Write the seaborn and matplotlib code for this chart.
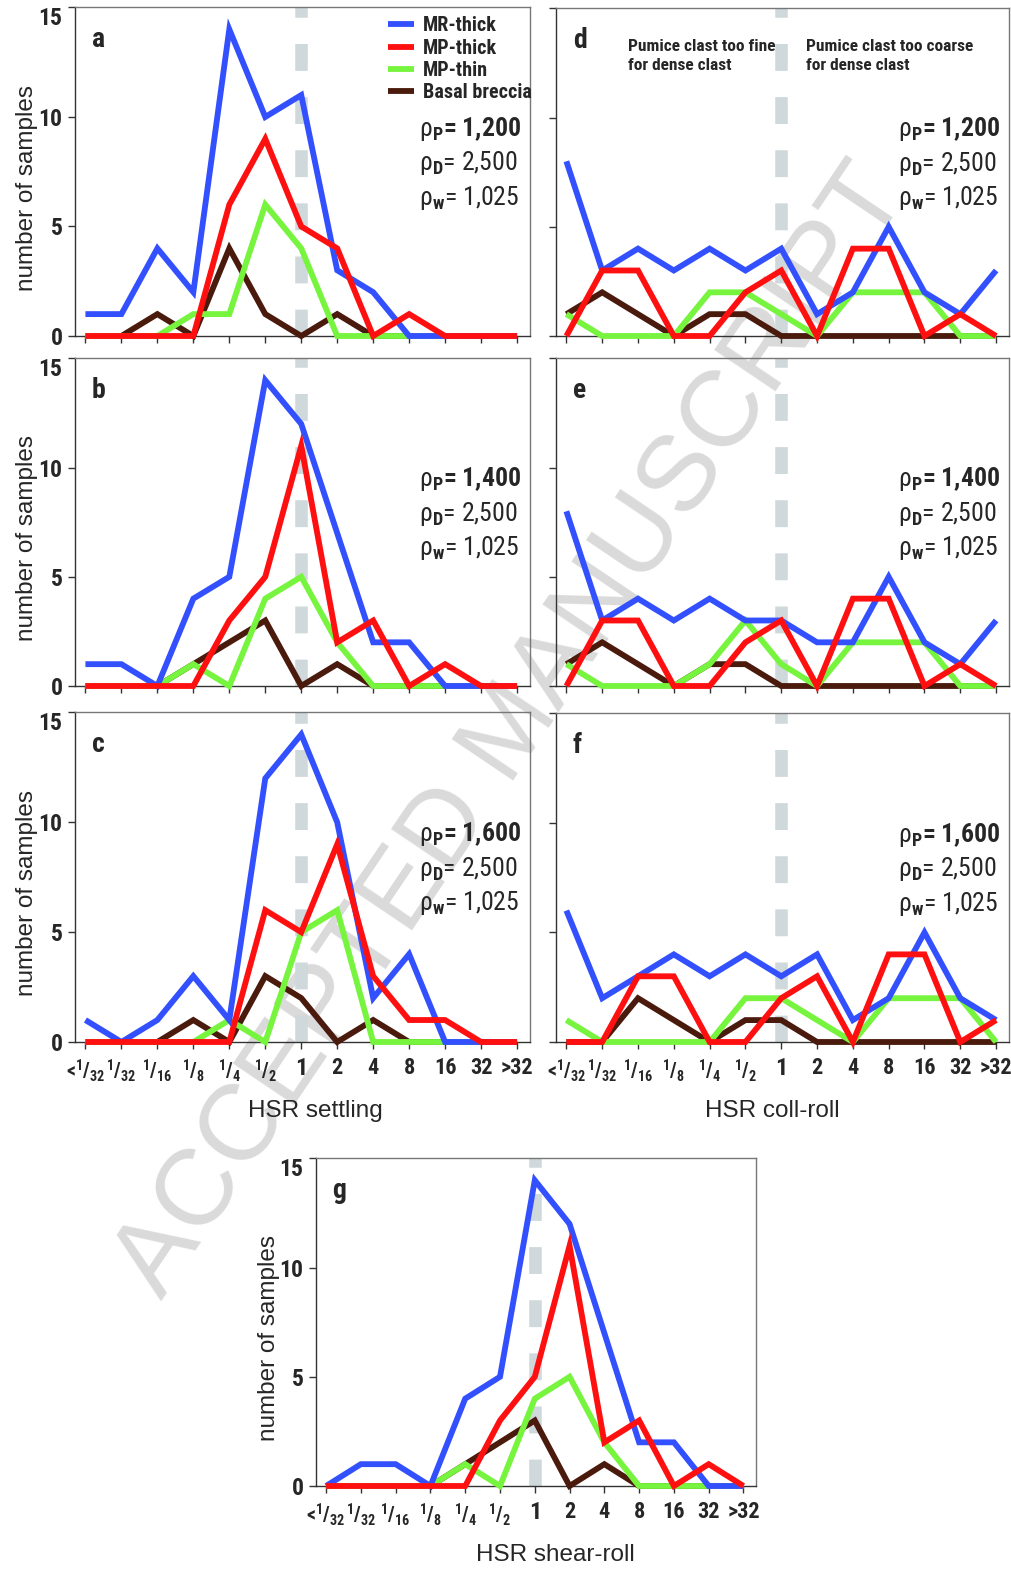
import numpy as np
import pandas as pd
import matplotlib
matplotlib.use("Agg")
import matplotlib.pyplot as plt
import seaborn as sns
from matplotlib import font_manager

# HSR classes on the x axis
hsr_classes = ["<1/32", "1/32", "1/16", "1/8", "1/4", "1/2", "1", "2", "4", "8", "16", "32", ">32"]
tick_labels = [r"<$\mathbf{^{1}/_{32}}$", r"$\mathbf{^{1}/_{32}}$", r"$\mathbf{^{1}/_{16}}$",
               r"$\mathbf{^{1}/_{8}}$", r"$\mathbf{^{1}/_{4}}$", r"$\mathbf{^{1}/_{2}}$",
               "1", "2", "4", "8", "16", "32", ">32"]
units = ["MR-thick", "MP-thick", "MP-thin", "Basal breccia"]

# a: HSR settling, rho_P = 1,200
a_mr_thick = [1, 1, 4, 2, 14, 10, 11, 3, 2, 0, 0, 0, 0]
a_mp_thick = [0, 0, 0, 0, 6, 9, 5, 4, 0, 1, 0, 0, 0]
a_mp_thin = [0, 0, 0, 1, 1, 6, 4, 0, 0, 0, 0, 0, 0]
a_basal = [0, 0, 1, 0, 4, 1, 0, 1, 0, 0, 0, 0, 0]
# b: HSR settling, rho_P = 1,400
b_mr_thick = [1, 1, 0, 4, 5, 14, 12, 7, 2, 2, 0, 0, 0]
b_mp_thick = [0, 0, 0, 0, 3, 5, 11, 2, 3, 0, 1, 0, 0]
b_mp_thin = [0, 0, 0, 1, 0, 4, 5, 2, 0, 0, 0, 0, 0]
b_basal = [0, 0, 0, 1, 2, 3, 0, 1, 0, 0, 0, 0, 0]
# c: HSR settling, rho_P = 1,600
c_mr_thick = [1, 0, 1, 3, 1, 12, 14, 10, 2, 4, 0, 0, 0]
c_mp_thick = [0, 0, 0, 0, 0, 6, 5, 9, 3, 1, 1, 0, 0]
c_mp_thin = [0, 0, 0, 0, 1, 0, 5, 6, 0, 0, 0, 0, 0]
c_basal = [0, 0, 0, 1, 0, 3, 2, 0, 1, 0, 0, 0, 0]
# d: HSR coll-roll, rho_P = 1,200
d_mr_thick = [8, 3, 4, 3, 4, 3, 4, 1, 2, 5, 2, 1, 3]
d_mp_thick = [0, 3, 3, 0, 0, 2, 3, 0, 4, 4, 0, 1, 0]
d_mp_thin = [1, 0, 0, 0, 2, 2, 1, 0, 2, 2, 2, 0, 0]
d_basal = [1, 2, 1, 0, 1, 1, 0, 0, 0, 0, 0, 0, 0]
# e: HSR coll-roll, rho_P = 1,400
e_mr_thick = [8, 3, 4, 3, 4, 3, 3, 2, 2, 5, 2, 1, 3]
e_mp_thick = [0, 3, 3, 0, 0, 2, 3, 0, 4, 4, 0, 1, 0]
e_mp_thin = [1, 0, 0, 0, 1, 3, 1, 0, 2, 2, 2, 0, 0]
e_basal = [1, 2, 1, 0, 1, 1, 0, 0, 0, 0, 0, 0, 0]
# f: HSR coll-roll, rho_P = 1,600
f_mr_thick = [6, 2, 3, 4, 3, 4, 3, 4, 1, 2, 5, 2, 1]
f_mp_thick = [0, 0, 3, 3, 0, 0, 2, 3, 0, 4, 4, 0, 1]
f_mp_thin = [1, 0, 0, 0, 0, 2, 2, 1, 0, 2, 2, 2, 0]
f_basal = [0, 0, 2, 1, 0, 1, 1, 0, 0, 0, 0, 0, 0]
# g: HSR shear-roll
g_mr_thick = [0, 1, 1, 0, 4, 5, 14, 12, 7, 2, 2, 0, 0]
g_mp_thick = [0, 0, 0, 0, 0, 3, 5, 11, 2, 3, 0, 1, 0]
g_mp_thin = [0, 0, 0, 0, 1, 0, 4, 5, 2, 0, 0, 0, 0]
g_basal = [0, 0, 0, 0, 1, 2, 3, 0, 1, 0, 0, 0, 0]

colors = {"MR-thick": "#3350ff", "MP-thick": "#ff1010", "MP-thin": "#77f53e", "Basal breccia": "#4a1a0c"}
draw_order = ["Basal breccia", "MP-thin", "MR-thick", "MP-thick"]

# condensed font if there is one, otherwise a plain one a bit smaller
installed = {f.name for f in font_manager.fontManager.ttflist}
if "Roboto Condensed" in installed:
    NFAM, k = "Roboto Condensed", 1.0
elif "Liberation Sans Narrow" in installed:
    NFAM, k = "Liberation Sans Narrow", 1.0
else:
    NFAM, k = "Liberation Sans", 0.84

sns.set_style("ticks")
plt.rcParams["font.family"] = ["Liberation Sans", "DejaVu Sans"]
plt.rcParams["mathtext.fontset"] = "custom"
plt.rcParams["mathtext.rm"] = NFAM
plt.rcParams["mathtext.it"] = NFAM + ":italic"
plt.rcParams["mathtext.bf"] = NFAM + ":bold"
NARROW = [NFAM, "DejaVu Sans"]

W, H = 1011, 1570
fig = plt.figure(figsize=(W / 100, H / 100), dpi=100)


def add_ax(l, t, r, b):
    ax = fig.add_axes([l / W, 1 - b / H, (r - l) / W, (b - t) / H])
    ax.set_facecolor("none")
    return ax


def panel(ax, series, letter, rho_p, xlabel=None, xlab_x=0.5, ylabel=True, legend=False):
    ax.axvline(6, color="#cfd8da", lw=9, dashes=(2.15, 2.1), zorder=1.5)
    lines = {}
    for name in draw_order:
        df = pd.DataFrame({"pos": np.arange(len(hsr_classes)), "count": series[name]})
        sns.lineplot(data=df, x="pos", y="count", color=colors[name], lw=4.2, ax=ax,
                     clip_on=False, zorder=3, label=name, legend=False,
                     solid_joinstyle="miter", solid_capstyle="butt")
        lines[name] = ax.lines[-1]
    if ax.get_legend() is not None:
        ax.get_legend().remove()

    ax.set_xlim(-0.29, 12.36)
    ax.set_ylim(0, 15.02)
    ax.set_xticks(range(len(hsr_classes)))
    ax.set_yticks([0, 5, 10, 15])
    ax.tick_params(axis="both", direction="out", length=5, width=1, color="#333", pad=4)
    for side in ["left", "bottom"]:
        ax.spines[side].set_color("#333")
    for side in ["top", "right"]:
        ax.spines[side].set_color("#777")
    for s in ax.spines.values():
        s.set_linewidth(1.0)

    if xlabel:
        ax.set_xticklabels(tick_labels, family=NARROW, fontsize=16 * k, fontweight="bold")
        xt = ax.get_xticklabels()
        for lab in xt[:6]:
            lab.set_fontsize(14.5 * k)
        xt[6].set_fontsize(17.5 * k)
        xt[6].set_fontweight("black")
        ax.tick_params(axis="x", pad=6)
        ax.set_xlabel(xlabel, fontsize=17.5)
        ax.xaxis.set_label_coords(xlab_x, -0.176)
    else:
        ax.set_xticklabels([])
        ax.set_xlabel("")
    if ylabel:
        ax.set_yticklabels(["0", "5", "10", "15"], family=NARROW, fontsize=17 * k, fontweight="bold")
        ax.get_yticklabels()[-1].set_va("top")
        ax.set_ylabel("number of samples", fontsize=17.5)
        ax.yaxis.set_label_coords(-0.081, 0.45)
    else:
        ax.set_yticklabels([])
        ax.set_ylabel("")

    ax.text(0.037, 0.9, letter, transform=ax.transAxes, fontsize=20, fontweight="bold",
            family=NARROW, va="center", ha="left")
    if rho_p:
        x0 = 0.755
        fs = 18.5 * k
        ax.text(x0, 0.63, r"$\mathrm{\rho}_{\mathbf{P}}$= " + rho_p, transform=ax.transAxes,
                fontsize=fs, fontweight="bold", family=NARROW, va="center")
        ax.text(x0, 0.525, r"$\mathrm{\rho}_{\mathbf{D}}$= 2,500", transform=ax.transAxes,
                fontsize=fs, family=NARROW, va="center")
        ax.text(x0, 0.42, r"$\mathrm{\rho}_{\mathbf{w}}$= 1,025", transform=ax.transAxes,
                fontsize=fs, family=NARROW, va="center")
    if legend:
        ax.legend(handles=[lines[u] for u in units], loc="upper left", bbox_to_anchor=(0.688, 0.972),
                  frameon=False, prop={"family": NARROW, "weight": "bold", "size": 14.5 * k},
                  handlelength=1.3 / k, handletextpad=0.45, labelspacing=0.17, borderaxespad=0.0,
                  borderpad=0.0)


def pack(mr, mp, thin, basal):
    return {"MR-thick": mr, "MP-thick": mp, "MP-thin": thin, "Basal breccia": basal}


ax_a = add_ax(75, 7, 530, 336)
ax_b = add_ax(75, 358, 530, 686)
ax_c = add_ax(75, 712, 530, 1042)
ax_d = add_ax(556, 8, 1009, 336)
ax_e = add_ax(556, 358, 1009, 686)
ax_f = add_ax(556, 713, 1009, 1042)
ax_g = add_ax(316, 1158, 756, 1486)

panel(ax_a, pack(a_mr_thick, a_mp_thick, a_mp_thin, a_basal), "a", "1,200", legend=True)
panel(ax_b, pack(b_mr_thick, b_mp_thick, b_mp_thin, b_basal), "b", "1,400")
panel(ax_c, pack(c_mr_thick, c_mp_thick, c_mp_thin, c_basal), "c", "1,600",
      xlabel="HSR settling", xlab_x=0.529)
panel(ax_d, pack(d_mr_thick, d_mp_thick, d_mp_thin, d_basal), "d", "1,200", ylabel=False)
panel(ax_e, pack(e_mr_thick, e_mp_thick, e_mp_thin, e_basal), "e", "1,400", ylabel=False)
panel(ax_f, pack(f_mr_thick, f_mp_thick, f_mp_thin, f_basal), "f", "1,600", ylabel=False,
      xlabel="HSR coll-roll", xlab_x=0.478)
panel(ax_g, pack(g_mr_thick, g_mp_thick, g_mp_thin, g_basal), "g", None,
      xlabel="HSR shear-roll", xlab_x=0.545)

for xt, txt in [(0.159, "Pumice clast too fine\nfor dense clast"),
                (0.551, "Pumice clast too coarse\nfor dense clast")]:
    ax_d.text(xt, 0.905, txt, transform=ax_d.transAxes, fontsize=12.5 * k, family=NARROW,
              fontweight="bold", va="top", ha="left", linespacing=1.35)

fig.text(0.507, 0.534, "ACCEPTED MANUSCRIPT", rotation=56, rotation_mode="anchor",
         fontsize=78, color="#dadada", ha="center", va="center", zorder=-1,
         family=["Liberation Sans", "DejaVu Sans"])

fig.savefig("out.png", dpi=100)
